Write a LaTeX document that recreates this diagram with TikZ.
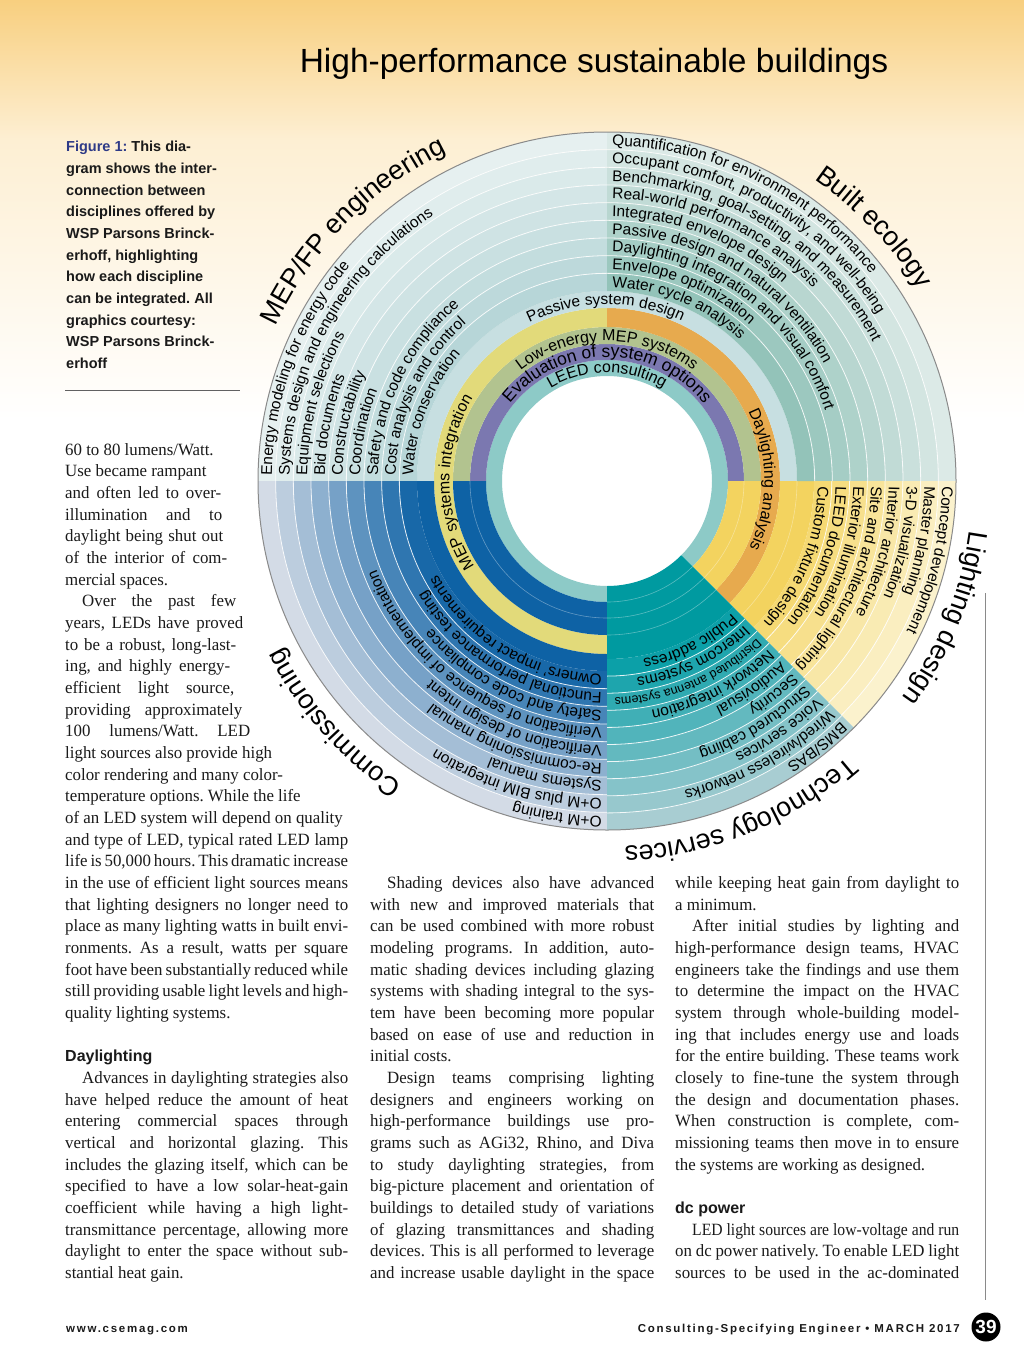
\documentclass[tikz,border=0pt]{standalone}
\usepackage{fontspec}
\setmainfont{Liberation Serif}[FakeStretch=0.98]
\setsansfont{Liberation Sans}
\usetikzlibrary{decorations.text,positioning}
\frenchspacing
\definecolor{ink}{HTML}{1A1A1A}
\definecolor{figblue}{HTML}{2E3A87}
\definecolor{bandtop}{HTML}{F8CF7F}
\definecolor{bandmid}{HTML}{FDEFD3}
\definecolor{leedteal}{HTML}{8DCAC7}
\definecolor{evalpurple}{HTML}{7B78B0}
\definecolor{lowolive}{HTML}{B2C38F}
\definecolor{mepyellow}{HTML}{E2DA7A}
\definecolor{daylorange}{HTML}{E7AA4E}
\definecolor{passivebg}{HTML}{C7DFE1}
\definecolor{mepin}{HTML}{B7D6D8}
\definecolor{mepout}{HTML}{E6F0F0}
\definecolor{bltin}{HTML}{93C3B9}
\definecolor{bltout}{HTML}{DCEAE7}
\definecolor{cxdark}{HTML}{0E62A5}
\definecolor{cxin}{HTML}{1868A8}
\definecolor{cxout}{HTML}{D3DBE6}
\definecolor{lityellow}{HTML}{F3D35F}
\definecolor{litin}{HTML}{F5D973}
\definecolor{litout}{HTML}{FBF2CD}
\definecolor{techdark}{HTML}{009AA0}
\definecolor{techin}{HTML}{0CA0A8}
\definecolor{techout}{HTML}{A8CDD2}
\definecolor{rimgrey}{HTML}{8A8A8A}
\newcommand{\itemfont}{\sffamily\fontsize{15.5}{18}\selectfont}
\newcommand{\smallitem}{\sffamily\fontsize{12.5}{14}\selectfont}
\newcommand{\midfont}{\sffamily\fontsize{16}{18}\selectfont}
\newcommand{\evalfont}{\sffamily\fontsize{17.5}{19}\selectfont}
\newcommand{\headfont}{\sffamily\fontsize{27}{30}\selectfont}
% ring segment: inner r, outer r, from angle, to angle, colour
\newcommand{\ringseg}[5]{\fill[#5] (#3:#1) arc[start angle=#3,end angle=#4,radius=#1] -- (#4:#2) arc[start angle=#4,end angle=#3,radius=#2] -- cycle;}
% text on a ring, running clockwise from a sector edge
\newcommand{\ringtxt}[4][\itemfont]{%
  \pgfmathsetmacro{\rtstart}{#3-290/#2}%
  \path[decorate,decoration={text along path,text={|#1|#4}}] (\rtstart:#2) arc[start angle=\rtstart,delta angle=-200,radius=#2];}
% text centred on a ring
\newcommand{\midtxt}[4][\midfont]{%
  \path[decorate,decoration={text along path,text align=center,text={|#1|#4}}] (#3+100:#2) arc[start angle=#3+100,delta angle=-200,radius=#2];}
\newcommand{\jl}[2][284]{\makebox[#1pt][s]{#2}}
\newcommand{\ind}{\hspace*{17pt}}

\begin{document}
\begin{tikzpicture}[x=1pt,y=1pt,
  sep/.style={white,line width=0.8pt,opacity=0.85},
  faint/.style={white,line width=0.6pt,opacity=0.35},
  body/.style={inner sep=0pt,align=left,text=ink,font=\fontsize{17.2}{21.67}\selectfont},
  side/.style={inner sep=0pt,align=left,text=ink,font=\sffamily\bfseries\fontsize{14.5}{21.67}\selectfont},
  foot/.style={inner sep=0pt,text=ink,font=\sffamily\bfseries\fontsize{11.5}{13}\selectfont\addfontfeatures{LetterSpace=15}}]
\useasboundingbox (0,0) rectangle (1024,-1365);
\fill[white] (0,0) rectangle (1024,-1365);
\shade[top color=bandtop,bottom color=bandmid] (0,0) rectangle (1024,-140);
\shade[top color=bandmid,bottom color=white] (0,-140) rectangle (1024,-420);

\node[anchor=base,inner sep=0pt,font=\sffamily\fontsize{33.5}{40}\selectfont] (title) at (594,-72) {High-performance sustainable buildings};

% the wheel
\begin{scope}[shift={(607,-481)}]
  \fill[white] (0,0) circle[radius=105];
  \ringseg{105}{121}{-45}{270}{leedteal}
  \ringseg{121}{137}{0}{180}{evalpurple}
  \ringseg{137}{154}{0}{180}{lowolive}
  \ringseg{154}{173}{90}{270}{mepyellow}
  \ringseg{154}{173}{-45}{90}{daylorange}
  \ringseg{173}{190}{0}{180}{passivebg}
  \ringseg{121}{154}{180}{270}{cxdark}
  \ringseg{173}{190}{180}{270}{cxdark}
  \ringseg{121}{154}{-45}{0}{lityellow}
  \ringseg{173}{207}{-45}{0}{lityellow}
  \ringseg{105}{178}{-90}{-45}{techdark}
  \foreach \k in {1,...,9}{
    \pgfmathsetmacro{\ri}{349-17.667*\k}
    \pgfmathsetmacro{\ro}{\ri+17.667}
    \pgfmathsetmacro{\mx}{(\k-1)*12.5}
    \ringseg{\ri}{\ro}{90}{180}{mepin!\mx!mepout}
    \ringseg{\ri}{\ro}{0}{90}{bltin!\mx!bltout}
    \ringseg{\ri}{\ro}{180}{270}{cxin!\mx!cxout}
  }
  \foreach \k in {1,...,8}{
    \pgfmathsetmacro{\ri}{349-17.75*\k}
    \pgfmathsetmacro{\ro}{\ri+17.75}
    \pgfmathsetmacro{\mx}{(\k-1)*14.3}
    \ringseg{\ri}{\ro}{-45}{0}{litin!\mx!litout}
  }
  \foreach \k in {1,...,10}{
    \pgfmathsetmacro{\ri}{349-17.1*\k}
    \pgfmathsetmacro{\ro}{\ri+17.1}
    \pgfmathsetmacro{\mx}{(\k-1)*11.1}
    \ringseg{\ri}{\ro}{-90}{-45}{techin!\mx!techout}
  }
  % ring separators
  \foreach \k in {1,...,8}{
    \pgfmathsetmacro{\ri}{349-17.667*\k}
    \draw[sep] (0:\ri) arc[start angle=0,end angle=270,radius=\ri];
  }
  \foreach \k in {1,...,7}{
    \pgfmathsetmacro{\ri}{349-17.75*\k}
    \draw[sep] (-45:\ri) arc[start angle=-45,end angle=0,radius=\ri];
  }
  \foreach \k in {1,...,9}{
    \pgfmathsetmacro{\ri}{349-17.1*\k}
    \draw[sep] (-90:\ri) arc[start angle=-90,end angle=-45,radius=\ri];
  }
  \foreach \r in {121,137,154}{
    \draw[faint] (-90:\r) arc[start angle=-90,end angle=-45,radius=\r];
  }
  \draw[faint] (180:137) arc[start angle=180,end angle=270,radius=137];
  \draw[faint] (-45:137) arc[start angle=-45,end angle=0,radius=137];
  \draw[faint] (-45:190) arc[start angle=-45,end angle=0,radius=190];
  \draw[rimgrey,line width=1pt] (0,0) circle[radius=349];

  % inner rings
  \midtxt{108.5}{90}{LEED consulting}
  \midtxt[\evalfont]{124}{90}{Evaluation of system options}
  \midtxt{140}{90}{Low-energy MEP systems}
  \midtxt{157.5}{180.5}{MEP systems integration}
  \midtxt{157.5}{0.5}{Daylighting analysis}
  \midtxt[\itemfont]{176.5}{90.5}{Passive system design}

  % MEP/FP engineering
  \ringtxt{335.1}{180}{Energy modeling for energy code}
  \ringtxt{317.5}{180}{Systems design and engineering calculations}
  \ringtxt{299.8}{180}{Equipment selections}
  \ringtxt{282.1}{180}{Bid documents}
  \ringtxt{264.5}{180}{Constructability}
  \ringtxt{246.8}{180}{Coordination}
  \ringtxt{229.1}{180}{Safety and code compliance}
  \ringtxt{211.5}{180}{Cost analysis and control}
  \ringtxt{193.8}{180}{Water conservation}

  % Built ecology
  \ringtxt{335.1}{90}{Quantification for environment performance}
  \ringtxt{317.5}{90}{Occupant comfort, productivity, and well-being}
  \ringtxt{299.8}{90}{Benchmarking, goal-setting, and measurement}
  \ringtxt{282.1}{90}{Real-world performance analysis}
  \ringtxt{264.5}{90}{Integrated envelope design}
  \ringtxt{246.8}{90}{Passive design and natural ventilation}
  \ringtxt{229.1}{90}{Daylighting integration and visual comfort}
  \ringtxt{211.5}{90}{Envelope optimization}
  \ringtxt{193.8}{90}{Water cycle analysis}

  % Lighting design
  \ringtxt{335.1}{0}{Concept development}
  \ringtxt{317.3}{0}{Master planning}
  \ringtxt{299.6}{0}{3-D visualization}
  \ringtxt{281.8}{0}{Interior architecture}
  \ringtxt{264.1}{0}{Site and architectural lighting}
  \ringtxt{246.3}{0}{Exterior illumination}
  \ringtxt{228.6}{0}{LEED documentation}
  \ringtxt{210.8}{0}{Custom fixture design}

  % Technology services
  \ringtxt{335.7}{-45}{BMS/BAS}
  \ringtxt{318.6}{-45}{Wired/wireless networks}
  \ringtxt{301.5}{-45}{Voice services}
  \ringtxt{284.4}{-45}{Structured cabling}
  \ringtxt{267.3}{-45}{Security}
  \ringtxt{250.2}{-45}{Audiovisual}
  \ringtxt{233.1}{-45}{Network integration}
  \ringtxt[\smallitem]{217}{-45}{Distributed antenna systems}
  \ringtxt{198.9}{-45}{Intercom systems}
  \ringtxt{181.8}{-45}{Public address}

  % Commissioning
  \ringtxt{335.1}{270}{O+M training}
  \ringtxt{317.5}{270}{O+M plus BIM integration}
  \ringtxt{299.8}{270}{Systems manual}
  \ringtxt{282.1}{270}{Re-commissioning manual}
  \ringtxt{264.5}{270}{Verification of design intent}
  \ringtxt{246.8}{270}{Verification of sequence of implementation}
  \ringtxt{229.1}{270}{Safety and code compliance}
  \ringtxt{211.5}{270}{Functional performance testing}
  \ringtxt{193.8}{270}{Owners' impact requirements}

  % discipline names
  \midtxt[\headfont]{366}{135.5}{MEP/FP engineering}
  \midtxt[\headfont]{366}{43.5}{Built ecology}
  \midtxt[\headfont]{366}{-22}{Lighting design}
  \midtxt[\headfont]{366}{-68}{Technology services}
  \midtxt[\headfont]{366}{-138.5}{Commissioning}
\end{scope}

% caption (base = last line)
\node[side,anchor=base west] (figcap) at (66,-368.4) {{\color{figblue}Figure 1:} This dia-\\
gram shows the inter-\\
connection between\\
disciplines offered by\\
WSP Parsons Brinck-\\
erhoff, highlighting\\
how each discipline\\
can be integrated. All\\
graphics courtesy:\\
WSP Parsons Brinck-\\
erhoff};
\draw[rimgrey!70!black,line width=0.8pt] (65,-390) -- (240,-390);

% body columns (base = last line)
\node[body,anchor=base west] (colone) at (65,-1278.5) {%
60 to 80 lumens/Watt.\\
Use became rampant\\
\jl[156]{and often led to over-}\\
\jl[157]{illumination and to}\\
\jl[158]{daylight being shut out}\\
\jl[162]{of the interior of com-}\\
mercial spaces.\\
\jl[171]{\ind Over the past few}\\
\jl[178]{years, LEDs have proved}\\
\jl[171]{to be a robust, long-last-}\\
\jl[165]{ing, and highly energy-}\\
\jl[169]{efficient light source,}\\
\jl[177]{providing approximately}\\
\jl[185]{100 lumens/Watt. LED}\\
light sources also provide high\\
color rendering and many color-\\
temperature options. While the life\\
of an LED system will depend on quality\\
\jl[283]{and type of LED, typical rated LED lamp}\\
\jl[283]{life is 50,000 hours. This dramatic increase}\\
\jl[283]{in the use of efficient light sources means}\\
\jl[283]{that lighting designers no longer need to}\\
\jl[283]{place as many lighting watts in built envi-}\\
\jl[283]{ronments. As a result, watts per square}\\
\jl[283]{foot have been substantially reduced while}\\
\jl[283]{still providing usable light levels and high-}\\
quality lighting systems.\\
\mbox{}\\
{\sffamily\bfseries\fontsize{16}{21.67}\selectfont Daylighting}\\
\jl[283]{\ind Advances in daylighting strategies also}\\
\jl[283]{have helped reduce the amount of heat}\\
\jl[283]{entering commercial spaces through}\\
\jl[283]{vertical and horizontal glazing. This}\\
\jl[283]{includes the glazing itself, which can be}\\
\jl[283]{specified to have a low solar-heat-gain}\\
\jl[283]{coefficient while having a high light-}\\
\jl[283]{transmittance percentage, allowing more}\\
\jl[283]{daylight to enter the space without sub-}\\
stantial heat gain.};

\node[body,anchor=base west] (coltwo) at (370,-1278.5) {%
\jl{\ind Shading devices also have advanced}\\
\jl{with new and improved materials that}\\
\jl{can be used combined with more robust}\\
\jl{modeling programs. In addition, auto-}\\
\jl{matic shading devices including glazing}\\
\jl{systems with shading integral to the sys-}\\
\jl{tem have been becoming more popular}\\
\jl{based on ease of use and reduction in}\\
initial costs.\\
\jl{\ind Design teams comprising lighting}\\
\jl{designers and engineers working on}\\
\jl{high-performance buildings use pro-}\\
\jl{grams such as AGi32, Rhino, and Diva}\\
\jl{to study daylighting strategies, from}\\
\jl{big-picture placement and orientation of}\\
\jl{buildings to detailed study of variations}\\
\jl{of glazing transmittances and shading}\\
\jl{devices. This is all performed to leverage}\\
\jl{and increase usable daylight in the space}};

\node[body,anchor=base west] (colthree) at (675,-1278.5) {%
\jl{while keeping heat gain from daylight to}\\
a minimum.\\
\jl{\ind After initial studies by lighting and}\\
\jl{high-performance design teams, HVAC}\\
\jl{engineers take the findings and use them}\\
\jl{to determine the impact on the HVAC}\\
\jl{system through whole-building model-}\\
\jl{ing that includes energy use and loads}\\
\jl{for the entire building. These teams work}\\
\jl{closely to fine-tune the system through}\\
\jl{the design and documentation phases.}\\
\jl{When construction is complete, com-}\\
\jl{missioning teams then move in to ensure}\\
the systems are working as designed.\\
\mbox{}\\
{\sffamily\bfseries\fontsize{16}{21.67}\selectfont dc power}\\
\jl{\addfontfeatures{FakeStretch=0.91}\ind LED light sources are low-voltage and run}\\
\jl{on dc power natively. To enable LED light}\\
\jl{sources to be used in the ac-dominated}};

\draw[rimgrey,line width=1pt] (985.5,-593) -- (985.5,-1300);

% footer
\node[foot,anchor=base west] (web) at (66,-1332) {www.csemag.com};
\node[foot,anchor=base east] (issue) at (960,-1332) {Consulting-Specifying Engineer • MARCH 2017};
\node[circle,fill=black,text=white,inner sep=0pt,minimum size=29pt,font=\sffamily\bfseries\fontsize{19}{20}\selectfont] (pageno) at (986,-1327) {39};
\end{tikzpicture}
\end{document}
